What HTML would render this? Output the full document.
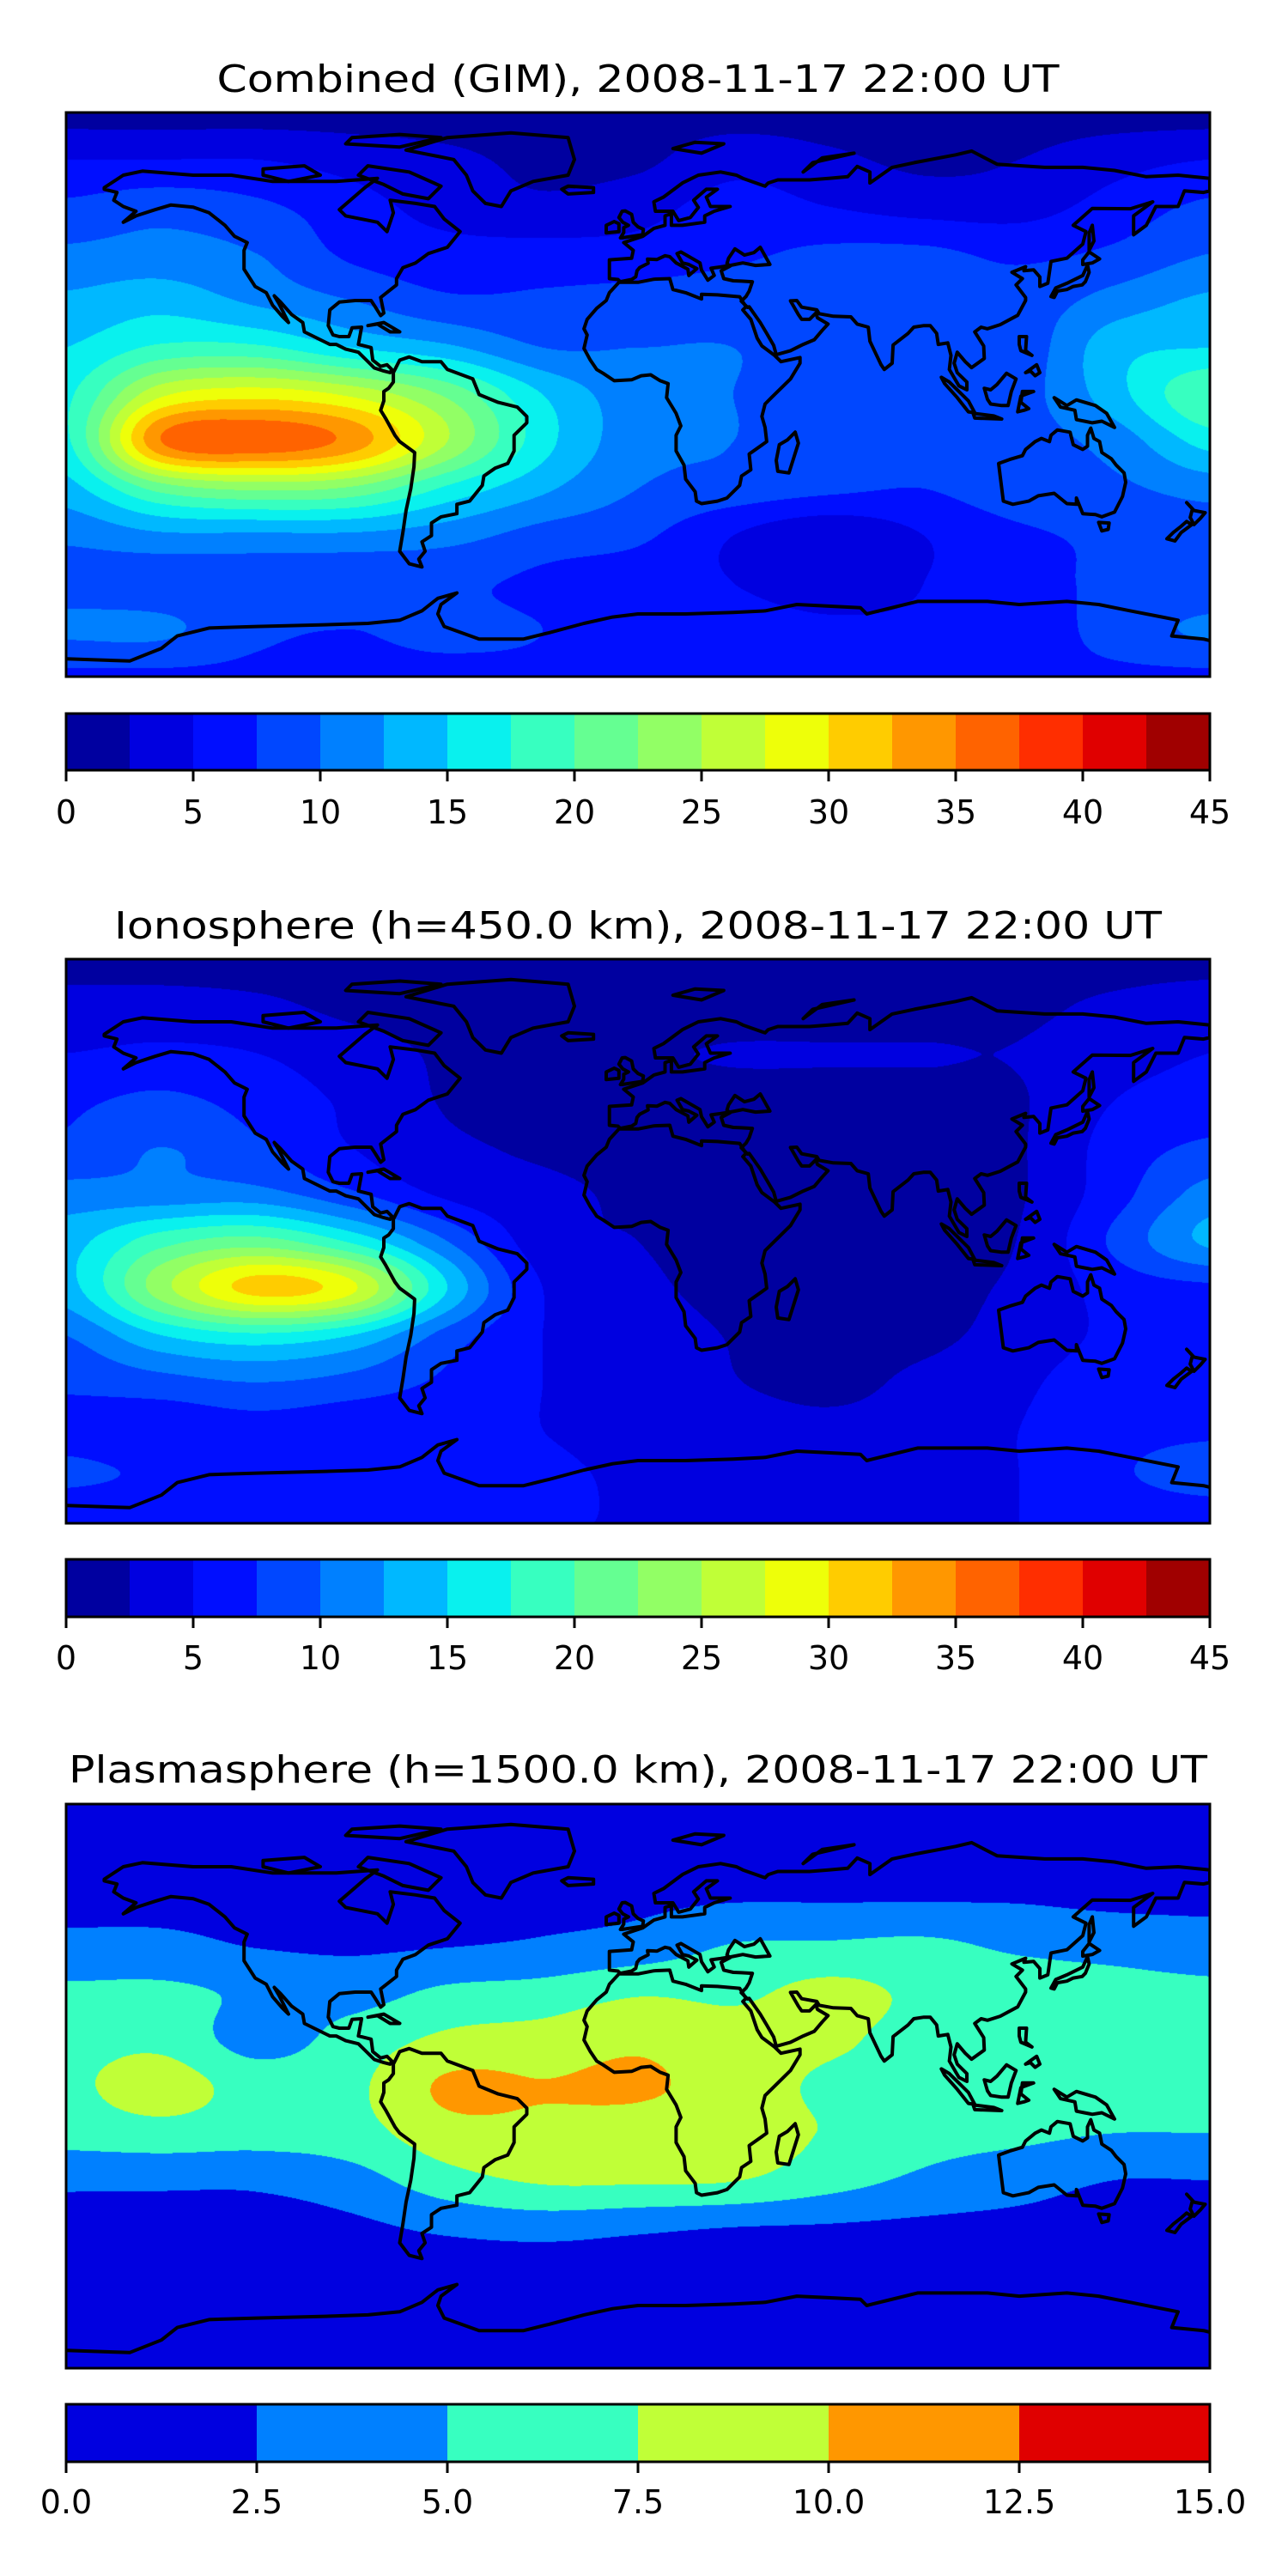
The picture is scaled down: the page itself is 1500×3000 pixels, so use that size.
<!DOCTYPE html>
<html><head><meta charset="utf-8">
<style>
html,body{margin:0;padding:0;background:#fff;}
#wrap{position:relative;width:1500px;height:3000px;overflow:hidden;}
canvas{position:absolute;}
svg{position:absolute;left:0;top:0;}
</style></head>
<body>
<div id="wrap">
<canvas id="c0"></canvas>
<canvas id="c1"></canvas>
<canvas id="c2"></canvas>
<svg id="ov" width="1500" height="3000"></svg>
</div>
<script>
// ---- data ----
const gridLons=[-180,-150,-120,-90,-60,-30,0,30,60,90,120,150,180];
const gridLats=[90,75,60,45,30,15,0,-15,-30,-45,-60,-75,-90];
const gimValues=[
[1.5,1.5,1.5,1.5,1.5,1.5,1.5,1.5,1.5,1.5,1.5,1.5,1.5],
[5,5,5,4,3,2,2,4,3,2,2.5,4,5],
[8,9,8,6,4,3,4,6,5,4,4,6,8],
[10.5,11,10,7,6,6,6,7,8,8,7,8,10],
[13,14,12,10,8,8,8.5,9,9,8.5,8.5,11,13],
[15,18,18,15,13,10,10,10,9,8.5,8.5,14,15],
[17,27,29,27,22,15,11,10,9,8.5,9,14,20],
[17,35,37,34,25,16,11,10,8.5,8,9,11,16],
[14,21,23,22,17,13,10,9,8,7.5,9,9.5,11],
[10.5,12,12,12,11,9,8,5,3,5,7,8,8.5],
[9,8.5,8.5,8,8,7,6,5,4,5,6.5,8,8],
[10.5,10.5,8,7.5,8,7.5,6,6,5.5,5.5,6,8.5,10.5],
[7,7,7,7,7,7,7,7,7,7,7,7,7]];
const ionoValues=[
[1.5,1.5,1.5,1.5,1.5,1.5,1.5,1.5,1.5,1.5,1.5,1.5,1.5],
[3.5,3.5,3,2,1.8,1.8,1.8,1.8,1.8,1.8,2,3,4],
[5,5.5,5,3.5,2.2,2,2.3,2.6,2.6,2.6,2.6,4,5],
[7,8,6.5,4.5,2.3,2,2,2,2,2,2.3,5,6],
[8,10,8,5,3,2.2,2,2,2,2,2.3,6,8],
[11,11,11,8,4.5,3,2.2,1.8,1.8,1.8,2.3,6.5,11],
[14,19,21,17,10,3.5,2.5,1.8,1.8,1.8,2.6,8,13],
[14,24,31,28,15,5,3,2,1.8,1.8,3,6,7],
[10,15,17,15,9,5,3.5,2.4,2,2,3.5,5.5,6],
[8,9,10,9,7,5,4,2.6,2,3,4.5,6.5,7],
[6.5,6,6.5,6,6,5,4,3.5,3,3.5,5,6.5,7],
[8,7,6,6,6,5.5,4.5,3.5,3.5,4,5,7,9],
[5,5,5,5,5,5,5,5,5,5,5,5,5]];
const plasmaValues=[
[1,1,1,1,1,1,1,1,1,1,1,1,1],
[1.5,1.5,1.5,1.5,1.5,1.5,1.5,1.5,1.5,1.5,1.5,1.5,1.5],
[2,2,2,2,2,2,2,2.3,2.3,2.3,2.3,2,2],
[3,3,2.4,2.2,2.4,2.8,3.5,5.1,5.3,5.5,4.5,4,3.5],
[5.5,5.6,4.5,4,5.5,6,7.2,7,8.2,7,6.5,6,5.6],
[6.5,6.8,4,6,8,8.5,9.5,8.5,8,6.5,6,6,6],
[7,8.6,6.5,7,10.4,10.1,10.3,9,7,6.5,6,6,6],
[6,6.5,6,6.5,9,9.3,9,8.8,7.3,6,5.5,5,5],
[3,3,3,4,6.5,7.8,7.8,7.6,6,4.5,3.5,2.5,2.5],
[1.5,1.5,1.5,2,3,3.5,3,2.5,2.3,2,1.8,1.5,1.5],
[1,1,1,1,1,1,1,1,1,1,1,1,1],
[1,1,1,1,1,1,1,1,1,1,1,1,1],
[1,1,1,1,1,1,1,1,1,1,1,1,1]];
const tecTicks=[0,5,10,15,20,25,30,35,40,45];
const tecTickLabels=["0","5","10","15","20","25","30","35","40","45"];
const plasmaTicks=[0,2.5,5,7.5,10,12.5,15];
const plasmaTickLabels=["0.0","2.5","5.0","7.5","10.0","12.5","15.0"];
const titles=["Combined (GIM), 2008-11-17 22:00 UT","Ionosphere  (h=450.0 km), 2008-11-17 22:00 UT","Plasmasphere (h=1500.0 km), 2008-11-17 22:00 UT"];

// coastlines (lon,lat)
const coasts=[
[[-168,66],[-162,70],[-156,71.3],[-140,70],[-128,70],[-115,68],[-95,68],[-82,69],[-86,66],[-94,59],[-92,57],[-82,55],[-79,52],[-77,58],[-78,62],[-70,61],[-64,60],[-61,56],[-56,52],[-60,47],[-66,45],[-70,42],[-74,40.5],[-76,37],[-76,35],[-81,31],[-80,26],[-81,25.2],[-82.7,28],[-84,30],[-89,30],[-94,29.5],[-97,27],[-97.5,22],[-96,19],[-94,18.5],[-91,18.5],[-90,21.3],[-87,21.5],[-88,16],[-84,15],[-83.5,11],[-81,9],[-79,9.5],[-77.5,8],[-78,7],[-80,7.5],[-83,8.5],[-86,11.5],[-88,13.5],[-92,14.5],[-95,16],[-97,16],[-105,20],[-105.5,23],[-109,25.5],[-112.5,29.5],[-114.5,31.5],[-113,29],[-110,23],[-112,25],[-115,28.5],[-117,32.5],[-120.5,34.5],[-124,40],[-124,46],[-123,48.5],[-127,50.5],[-130,54],[-135,58],[-140,59.8],[-147,60.5],[-152,59],[-158,57],[-162,55],[-158,58.5],[-162,60],[-165,62],[-164,64.5],[-168,65.5]],
[[-73,78],[-60,82],[-40,83.5],[-22,82],[-20,75],[-22,70],[-33,68],[-40,65],[-43,60],[-48,61],[-52,65],[-54,70],[-58,75],[-68,77]],
[[-85,73],[-72,71],[-62,66.5],[-66,62.5],[-74,64],[-80,67],[-88,70]],
[[-92,80],[-75,79],[-62,82],[-75,83],[-90,82]],
[[-118,72],[-105,73],[-100,70],[-110,68],[-118,70]],
[[-85,22],[-80,23],[-75,20],[-78,20],[-82,22.5]],
[[-77,7],[-75,11],[-72,12],[-68,10.5],[-62,10.5],[-60,8],[-52,5],[-50,0],[-44,-2.5],[-38,-4],[-35,-7],[-35,-9],[-39,-13],[-39,-18],[-41,-22],[-45,-23.5],[-48.5,-26],[-49,-29],[-53,-34],[-57,-35],[-57,-38],[-62,-39],[-65,-41],[-65,-45],[-68,-47],[-67,-50],[-69,-52.5],[-68,-55],[-72,-54],[-75,-50],[-74,-44],[-73,-37],[-71.5,-30],[-70.5,-23],[-70.3,-18.5],[-75,-15],[-76.5,-13],[-79.5,-7.5],[-81,-5],[-80,-2],[-80,1],[-78.5,2],[-77,4]],
[[-17,21],[-16,24],[-13,27.5],[-10,30],[-9,32.5],[-6,35.8],[0,35.8],[5,36.8],[10,37],[11,33.5],[15,32.5],[20,30.5],[20,32],[25,31.8],[32,31.2],[34,28],[33,27],[35.5,24],[37.5,18],[39,15.5],[43,12.5],[45,10.5],[51,11.8],[51,10],[48,5],[42,-1],[40,-3],[39,-7],[40,-10.5],[40.5,-15],[35,-19],[35.5,-24],[32.6,-26],[32,-29],[28,-33],[25,-34],[20,-34.8],[18.4,-34],[18,-31],[15,-27],[14.5,-22.5],[12,-18],[12,-13],[13.5,-10],[12,-6],[9,-1],[9.5,3.5],[7,4.4],[4,6.3],[1,6],[-2,4.7],[-7.5,4.4],[-11,6.8],[-13,8],[-15,11],[-17,14.7],[-16,19]],
[[49.5,-12],[50.5,-15.5],[47.5,-25],[44,-24.5],[43.5,-21],[44.5,-16],[47,-14.5]],
[[-9,37],[-9,43],[-2,43.5],[-1.5,46],[-4.5,48.5],[1.5,50.5],[5,53],[8.5,54],[8.5,57],[10.5,57.7],[10.5,54],[14,54],[21,55],[21,57],[24,58.5],[29,60],[22.8,60],[21.5,63],[25,65.5],[21.5,65.5],[17.5,62],[19,59.7],[16.5,56.5],[12.8,55.5],[11,58.5],[5.5,58.5],[5,61.5],[8,63],[14,67.5],[19,70],[26,71],[31,70],[33,69],[40,66.5],[41,67.5],[44,68.5],[54,68.5],[60,69],[66,69.5],[69,72.8],[73,71],[73,67.5],[80,72.5],[87,74],[100,76.5],[105,77.7],[113,73.5],[128,72.5],[140,72.5],[150,71.5],[160,69.5],[170,70],[180,69],[180,65],[178,64.5],[172,65],[170,60],[163,60],[160,54],[156,51],[156,57],[162,61.5],[155,59.3],[143,59.4],[137,54],[141,52],[140,48],[135,43.5],[130,42.5],[129,35.5],[126.5,34.5],[126.5,37.5],[124.5,39.8],[121.5,39.5],[122,40.8],[117.7,39],[121,37],[119,35],[122,31],[122,30],[119.5,25.3],[114,22.3],[110,21],[108,21.5],[106,20],[108.8,15.5],[109,11.5],[105,8.6],[103,10.5],[100.5,13.5],[99.5,10],[100.5,7],[103.5,4],[103.5,1.5],[101,2.8],[98,8],[98.5,12.5],[97.5,16.5],[94.5,16],[94,19.5],[92,22],[90,22],[86.8,21.5],[85,19.5],[80.3,15.8],[80,10],[77.5,8],[76.5,9.5],[73,17],[72.5,21.5],[69,22.5],[67,24.8],[61.5,25],[57,25.8],[56.3,27],[51.5,27.9],[50,30],[48,29.9],[50.5,25.5],[51.5,24],[54,24],[56,26],[56.5,24.5],[59.8,22.5],[58,20.5],[55.5,17.5],[52,16],[48,14],[43.5,12.7],[42.7,15.7],[40.5,19.5],[38.5,23],[35,28],[34.5,27.8],[32.5,29.8],[34,31.3],[35,33],[36,36],[32.5,36.2],[30,36.3],[27,37],[26.2,39.5],[29,41],[28,41.8],[28.5,43.5],[30.5,46.5],[33.5,44.5],[36.5,45.3],[38.5,47],[41.5,41.5],[37,41.2],[33,42],[29,41.2],[26,40.7],[23,40.3],[24,38],[22,36.5],[20,39.7],[19.5,42],[13.5,45.5],[12.3,45],[14,42],[16,41.5],[18.5,40.2],[16,38],[15.7,40],[12,42],[10,44],[8.5,44.3],[6,43.1],[3,43.2],[3.2,41.9],[0.5,40.5],[-0.3,39.5],[-0.7,37.6],[-2,36.7],[-5.6,36],[-6.3,36.7]],
[[-5,50],[1.5,51],[1.7,52.7],[0,53.5],[-1.5,55],[-2,57.5],[-4,58.6],[-5,58.5],[-6,56.5],[-4.8,55],[-3,54],[-4.5,53.3],[-4.5,51.7],[-5.5,50]],
[[-6,52],[-6,54.5],[-7.5,55.2],[-10,54],[-10,51.6]],
[[-22,64],[-14,64.5],[-14,66],[-22,66.5],[-24,65.5]],
[[52,71],[58,75.5],[68,77],[55,74]],
[[11,78.5],[18,80.5],[27,80],[20,77]],
[[142,46],[143.5,49],[143,54],[142,51.5]],
[[130,31.3],[131.5,34],[135,35.5],[140,38],[141.5,41.3],[142,39],[140.8,36],[139.8,35],[137,34.5],[135,33.5],[132,33],[131,31]],
[[140,41.5],[140,43],[142,45.5],[145.3,43.3],[143,42]],
[[95.5,5.5],[98,4],[104,-2],[106,-5.8],[104,-5.5],[100.5,-1],[96.5,3.5]],
[[109,2],[111,1.5],[113,3.2],[116,6.8],[119,5],[117.5,1],[116.5,-3.5],[114.5,-3.5],[111,-3],[110,-1.5]],
[[105.5,-6],[112,-6.8],[114.5,-7.8],[106,-7.5]],
[[119.5,-5.5],[120.5,-0.5],[124.5,1],[121,1],[120.5,-2.5],[123,-4.5],[121.5,-5]],
[[131,-1],[135,-3.5],[138,-1.7],[144,-3.5],[147.5,-6],[150,-10.5],[146,-8.5],[143,-9],[140.5,-8.5],[138,-8],[137.5,-5],[133,-4],[132,-2.5]],
[[120,18.5],[122.3,18.5],[122,14],[124,12.5],[120.5,14],[120,16]],
[[122,7],[125.5,9.5],[126.5,7],[125,6],[123.5,7.5]],
[[113.5,-22],[114,-26],[115,-34],[118,-35],[123,-34],[126,-32.3],[131,-31.5],[135,-34.8],[138,-35],[138,-33],[140,-38],[144,-38.3],[146,-39],[150,-37.5],[152.5,-32.5],[153.5,-28],[153,-25],[150.5,-22.5],[149,-20.5],[146,-18.5],[145.3,-15],[143.5,-14],[142.5,-10.7],[141.5,-13],[141.5,-16.5],[140,-17.5],[137,-16],[136,-12],[132,-11.3],[130,-13],[129.5,-15],[127,-14],[125,-15],[122,-17.5],[121,-19.5],[117,-20.7],[114,-21.8]],
[[145,-40.8],[148.3,-41],[148,-43],[146,-43.5]],
[[172.7,-34.5],[175,-37],[178.5,-37.7],[177,-39.5],[175,-41.5],[173.8,-39.2],[174.5,-36.5]],
[[172.7,-40.5],[174.3,-41.5],[171,-44],[169,-46.7],[166.5,-46],[168.5,-44],[171,-42]]
];
const antarctica=[[-180,-84.3],[-160,-85],[-150,-81],[-145,-77],[-135,-74.5],[-120,-74],[-100,-73.5],[-85,-73],[-75,-72],[-68,-69],[-63,-65],[-57,-63.3],[-62,-67],[-63,-70],[-61,-74],[-50,-78],[-36,-78],[-28,-76],[-17,-73],[-8,-71],[0,-70],[15,-70],[30,-69.5],[40,-69],[50,-67],[60,-67.5],[70,-68],[72,-70],[78,-68.5],[88,-66],[100,-66],[110,-66],[120,-67],[135,-66],[145,-67],[155,-69],[165,-71],[170,-72],[168,-77],[178,-78],[180,-78.5]];

// ---- layout ----
const MX=77,MW=1332,MH=657;
const panels=[
 {grid:gimValues,step:2.5,n:18,mapY:131,cbY:831,cbH:66,lblY:959,titleY:107,titleW:981,ticks:tecTicks,labels:tecTickLabels,vmax:45},
 {grid:ionoValues,step:2.5,n:18,mapY:1117,cbY:1816,cbH:67,lblY:1944,titleY:1093,titleW:1220,ticks:tecTicks,labels:tecTickLabels,vmax:45},
 {grid:plasmaValues,step:2.5,n:6,mapY:2101,cbY:2800,cbH:67,lblY:2927,titleY:2076,titleW:1326,ticks:plasmaTicks,labels:plasmaTickLabels,vmax:15}
];

function interp(a,b,c,d,t){return b+0.5*t*(c-a+t*(2*a-5*b+4*c-d+t*(3*(b-c)+d-a)));}
function sample(g,lon,lat){
 const fx=(lon-gridLons[0])/30, fy=(gridLats[0]-lat)/15;
 const ix=Math.min(Math.floor(fx),11), iy=Math.min(Math.floor(fy),11);
 const tx=fx-ix, ty=fy-iy;
 const cl=(v,m)=>Math.max(0,Math.min(m,v));
 const rows=[];
 for(let j=-1;j<=2;j++){
  const r=g[cl(iy+j,12)];
  rows.push(interp(r[cl(ix-1,12)],r[cl(ix,12)],r[cl(ix+1,12)],r[cl(ix+2,12)],tx));
 }
 return interp(rows[0],rows[1],rows[2],rows[3],ty);
}
function seg(x,pts){
 for(let i=0;i<pts.length-1;i++){const [x0,y0]=pts[i],[x1,y1]=pts[i+1];
  if(x<=x1){return y0+(y1-y0)*(x-x0)/(x1-x0);}}
 return pts[pts.length-1][1];
}
function jet(t){
 const r=seg(t,[[0,0],[0.35,0],[0.66,1],[0.89,1],[1,0.5]]);
 const g=seg(t,[[0,0],[0.125,0],[0.375,1],[0.64,1],[0.91,0],[1,0]]);
 const b=seg(t,[[0,0.5],[0.11,1],[0.34,1],[0.65,0],[1,0]]);
 return [Math.round(r*255),Math.round(g*255),Math.round(b*255)];
}
const NS="http://www.w3.org/2000/svg";
const ov=document.getElementById('ov');
function el(tag,attrs,parent){const e=document.createElementNS(NS,tag);for(const k in attrs)e.setAttribute(k,attrs[k]);(parent||ov).appendChild(e);return e;}

panels.forEach((p,pi)=>{
 const cols=[];for(let i=0;i<p.n;i++)cols.push(jet((i+0.5)/p.n));
 const cv=document.getElementById('c'+pi);
 cv.width=MW;cv.height=MH;cv.style.left=MX+'px';cv.style.top=p.mapY+'px';
 const ctx=cv.getContext('2d');const img=ctx.createImageData(MW,MH);const d=img.data;
 for(let y=0;y<MH;y++){const lat=90-(y+0.5)/MH*180;
  for(let x=0;x<MW;x++){const lon=-180+(x+0.5)/MW*360;
   const v=sample(p.grid,lon,lat);
   let k=Math.floor(v/p.step);k=Math.max(0,Math.min(p.n-1,k));
   const c=cols[k],o=(y*MW+x)*4;d[o]=c[0];d[o+1]=c[1];d[o+2]=c[2];d[o+3]=255;}}
 ctx.putImageData(img,0,0);

 const g=el('g',{});
 
 
 const px=lon=>MX+(lon+180)/360*MW, py=lat=>p.mapY+(90-lat)/180*MH;
 const t=el('text',{x:743,y:p.titleY,'text-anchor':'middle','font-family':'DejaVu Sans, Liberation Sans, sans-serif','font-size':44,textLength:p.titleW,lengthAdjust:'spacingAndGlyphs',fill:'#000'},g);
 t.textContent=titles[pi];
 
 
 const cg=el('g',{fill:'none',stroke:'#000','stroke-width':4,'stroke-linejoin':'round','clip-path':'url(#clip'+pi+')'},g);
 
 
 const cp=el('clipPath',{id:'clip'+pi},g);el('rect',{x:MX,y:p.mapY,width:MW,height:MH},cp);
 coasts.forEach(poly=>{
  const dstr='M'+poly.map(q=>px(q[0]).toFixed(1)+','+py(q[1]).toFixed(1)).join('L')+'Z';
  const pe=el('path',{d:dstr},cg);
  
  
 });
 const ant=el('path',{d:'M'+antarctica.map(q=>px(q[0]).toFixed(1)+','+py(q[1]).toFixed(1)).join('L')},cg);
 
 
 const fr=el('rect',{x:MX,y:p.mapY,width:MW,height:MH,fill:'none',stroke:'#000','stroke-width':3},g);
 
 
 const cb=el('g',{},g);
 
 
 const cx=v=>MX+v/p.vmax*MW;
 for(let i=0;i<p.n;i++){
  const r=el('rect',{x:cx(i*p.step),y:p.cbY,width:cx((i+1)*p.step)-cx(i*p.step)+0.5,height:p.cbH,fill:'rgb('+cols[i].join(',')+')'},cb);
  
  
 }
 el('rect',{x:MX,y:p.cbY,width:MW,height:p.cbH,fill:'none',stroke:'#000','stroke-width':3},cb);
 p.ticks.forEach((v,i)=>{
  const tk=el('line',{x1:cx(v),x2:cx(v),y1:p.cbY+p.cbH,y2:p.cbY+p.cbH+13,stroke:'#000','stroke-width':3},cb);
  
  
  const tl=el('text',{x:cx(v),y:p.lblY,'text-anchor':'middle','font-family':'DejaVu Sans, Liberation Sans, sans-serif','font-size':38,fill:'#000'},cb);
  tl.textContent=p.labels[i];
  
  
 });
});
</script>
</body></html>
